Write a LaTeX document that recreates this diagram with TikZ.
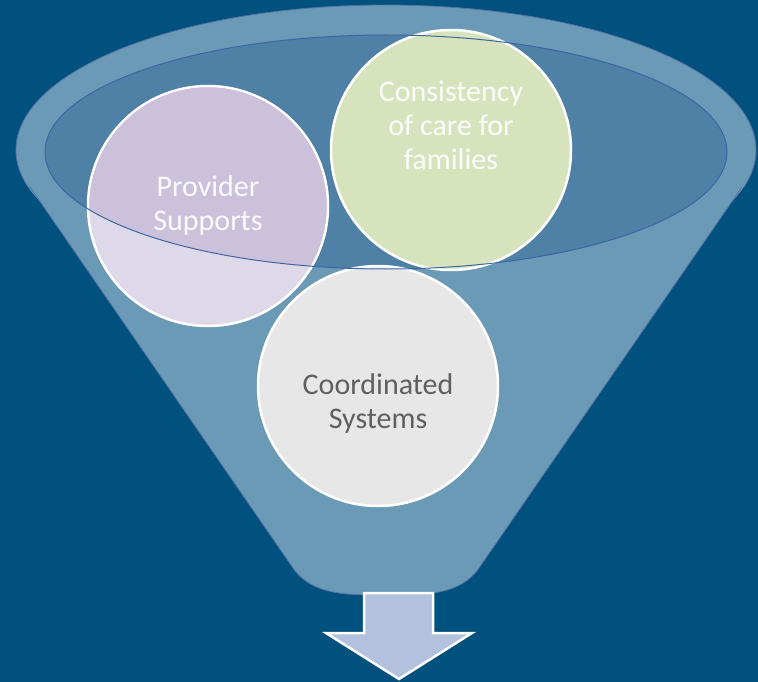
\documentclass[tikz,border=0pt]{standalone}
\usepackage{fontspec}
\setmainfont{Carlito}
\definecolor{bgblue}{HTML}{00517D}
\definecolor{funnelblue}{HTML}{6A9AB6}
\definecolor{mouthblue}{HTML}{4F80A5}
\definecolor{edgeblue}{HTML}{5670A8}
\definecolor{lipblue}{HTML}{3D66A6}
\definecolor{lavender}{HTML}{DED9E8}
\definecolor{lavdeep}{HTML}{CBC1DA}
\definecolor{sage}{HTML}{D7E3BD}
\definecolor{pale}{HTML}{E7E7E7}
\definecolor{arrowblue}{HTML}{B1C1DE}
\definecolor{darktext}{HTML}{606060}
\begin{document}
\begin{tikzpicture}[x=1pt, y=-1pt,
    every node/.style={inner sep=0pt, text centered},
    bubble/.style={circle, draw=white, line width=2.5pt, minimum size=240pt},
    caption/.style={align=center, font=\fontsize{30}{34}\selectfont}]
\fill[bgblue] (0,0) rectangle (758,682);

% funnel body and rim
\fill[funnelblue] (30,187) -- (293,568) .. controls (312,596) and (350,595) .. (386,595)
    .. controls (422,595) and (460,596) .. (479,568) -- (742,187) -- cycle;
\fill[funnelblue] (386,150) ellipse [x radius=370, y radius=145];
\draw[edgeblue, line width=0.8pt] (30,187) -- (293,568) .. controls (312,596) and (350,595) .. (386,595)
    .. controls (422,595) and (460,596) .. (479,568) -- (742,187);
\begin{scope}
\clip (0,0) rectangle (758,187);
\draw[edgeblue, line width=0.8pt] (386,150) ellipse [x radius=370, y radius=145];
\end{scope}
\fill[mouthblue] (386,152) ellipse [x radius=341, y radius=117];

% arrow out of the funnel
\draw[white, line width=2.5pt, fill=arrowblue] (364,593) -- (433,593) -- (433,633) -- (472,633)
    -- (399,679) -- (326,633) -- (364,633) -- cycle;

% the three circles
\node[bubble, fill=lavender] (prov) at (208,206) {};
\node[bubble, fill=sage] (cons) at (451,150) {};
\node[bubble, fill=pale] (coord) at (378,386) {};

% part of the purple circle seen through the mouth
\begin{scope}
\clip (386,152) ellipse [x radius=341, y radius=117];
\fill[lavdeep] (prov) circle [radius=118.7];
\end{scope}
\draw[lipblue, line width=1pt] (386,152) ellipse [x radius=341, y radius=117];

\node[caption, text=white!92!lavdeep] (provtxt) at (prov) {Provider\\Supports};
\node[caption, text=white!92!sage] (constxt) at ([yshift=25]cons) {Consistency\\of care for\\families};
\node[caption, text=darktext] (coordtxt) at ([yshift=-17]coord) {Coordinated\\Systems};
\end{tikzpicture}
\end{document}
